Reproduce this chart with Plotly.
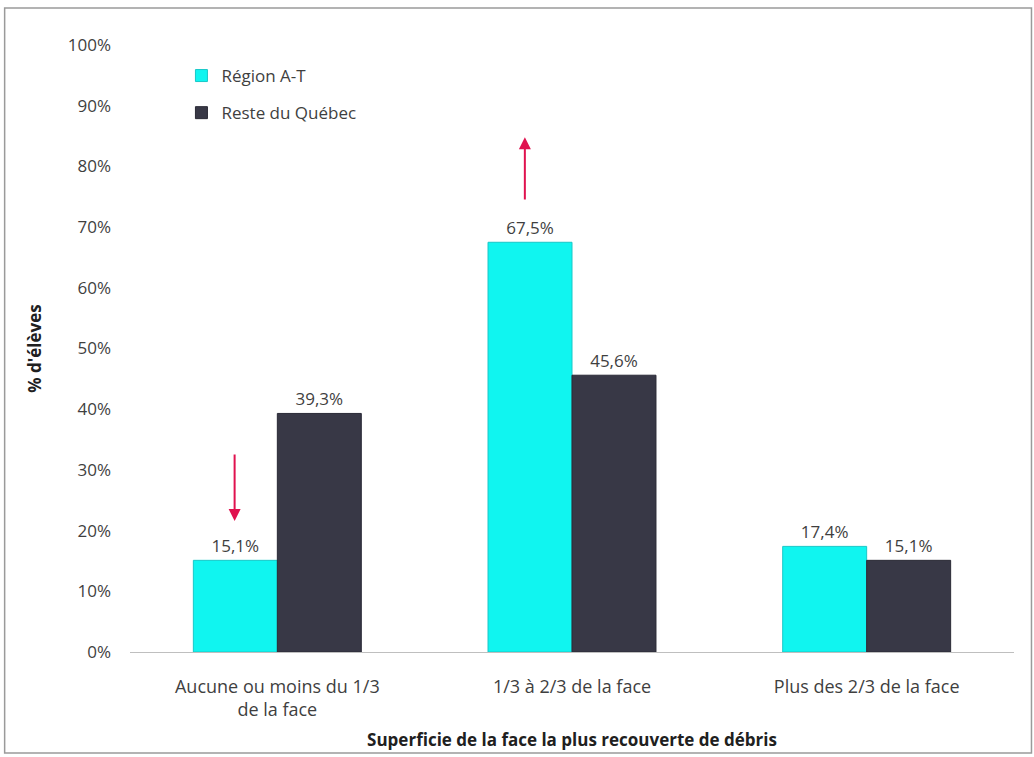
import plotly.graph_objects as go

categories = ["Aucune ou moins du 1/3<br>de la face", "1/3 à 2/3 de la face", "Plus des 2/3 de la face"]
region_at = [15.1, 67.5, 17.4]
reste_quebec = [39.3, 45.6, 15.1]
series_names = ["Région A-T", "Reste du Québec"]
y_ticks = [0, 10, 20, 30, 40, 50, 60, 70, 80, 90, 100]

def lab(v):
    return f"{v:.1f}".replace(".", ",") + "%"

FONT = "Open Sans"
FS = 17
TXT = "#3F3F3F"
fig = go.Figure()
fig.add_trace(go.Bar(
    x=categories, y=region_at, name=series_names[0], legendgroup="a",
    marker=dict(color="#10F5F0", line=dict(color="#18C8C8", width=1)),
    text=[lab(v) for v in region_at], textposition="outside",
    textfont=dict(size=FS, color=TXT, family=FONT), cliponaxis=False))
fig.add_trace(go.Bar(
    x=categories, y=reste_quebec, name=series_names[1], legendgroup="b",
    marker=dict(color="#383846", line=dict(color="#2A2A36", width=1)),
    text=[lab(v) for v in reste_quebec], textposition="outside",
    textfont=dict(size=FS, color=TXT, family=FONT), cliponaxis=False))

L, R, T, B = 129.5, 19.5, 45, 105
W, H = 1034, 757
pw, ph = W - L - R, H - T - B

def px2x(px):
    return (px - L) / pw

def py2y(py):
    return (H - B - py) / ph

fig.add_shape(type="rect", xref="paper", yref="paper",
              x0=px2x(4), x1=px2x(1032), y0=py2y(753), y1=py2y(8),
              line=dict(color="#9A9A9A", width=1.5), fillcolor="rgba(0,0,0,0)", layer="below")

# red arrows
fig.add_annotation(x=-0.145, y=21.6, ax=-0.145, ay=32.8, xref="x", yref="y", axref="x", ayref="y",
                   showarrow=True, arrowhead=2, arrowsize=1.2, arrowwidth=2, arrowcolor="#E0124F", text="")
fig.add_annotation(x=0.84, y=84.8, ax=0.84, ay=74.3, xref="x", yref="y", axref="x", ayref="y",
                   showarrow=True, arrowhead=2, arrowsize=1.2, arrowwidth=2, arrowcolor="#E0124F", text="")

fig.update_layout(
    width=W, height=H,
    margin=dict(l=L, r=R, t=T, b=B),
    paper_bgcolor="white", plot_bgcolor="white",
    barmode="group", bargap=0.43, bargroupgap=0,
    font=dict(family=FONT, size=FS, color=TXT),
    showlegend=True,
    legend=dict(x=px2x(181), y=py2y(58), xanchor="left", yanchor="top",
                font=dict(size=FS, color=TXT, family=FONT),
                tracegroupgap=12, itemwidth=30, bgcolor="rgba(0,0,0,0)",
                traceorder="grouped"),
    xaxis=dict(showline=True, linecolor="#BFBFBF", linewidth=1, ticks="",
               ticklabelstandoff=18, automargin=False,
               tickfont=dict(size=18, color=TXT, family=FONT),
               title=dict(text="<b>Superficie de la face la plus recouverte de débris</b>",
                          font=dict(size=FS, color="#202020", family=FONT), standoff=14)),
    yaxis=dict(range=[0, 100], tickvals=y_ticks, ticktext=[f"{v}%" for v in y_ticks],
               showgrid=False, zeroline=False, showline=False, ticks="",
               ticklabelstandoff=18, automargin=False,
               tickfont=dict(size=FS, color=TXT, family=FONT),
               title=dict(text="<b>% d'élèves</b>", font=dict(size=FS, color="#202020", family=FONT),
                          standoff=21)),
)
fig.write_html("out.html", config={"displayModeBar": False},
               post_script="document.body.style.margin='0';")
